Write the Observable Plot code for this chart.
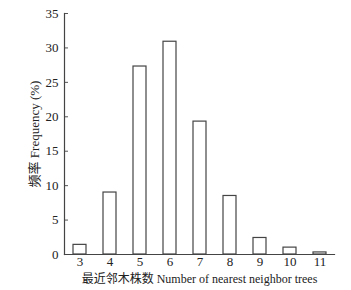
<!DOCTYPE html>
<html>
<head>
<meta charset="utf-8">
<script src="https://cdn.jsdelivr.net/npm/d3@7"></script>
<script src="https://cdn.jsdelivr.net/npm/@observablehq/plot@0.6"></script>
<style>
  html, body { margin: 0; padding: 0; background: #fff; }
  #chart svg { display: block; }
</style>
</head>
<body>
<div id="chart"></div>
<script>
const neighbors = [3, 4, 5, 6, 7, 8, 9, 10, 11];
const frequency = [1.4, 9.0, 27.3, 30.9, 19.3, 8.5, 2.4, 1.0, 0.3];
const yTicks = [0, 5, 10, 15, 20, 25, 30, 35];
const xLabel = "最近邻木株数 Number of nearest neighbor trees";
const yLabel = "频率 Frequency (%)";

const data = neighbors.map((n, i) => ({n, f: frequency[i]}));
const font = "'Liberation Serif', 'Noto Sans CJK SC', serif";

const chart = Plot.plot({
  width: 351,
  height: 290,
  marginLeft: 64,
  marginRight: 17,
  marginTop: 13,
  marginBottom: 36,
  style: {fontFamily: font, fontSize: "13px", color: "#222", background: "#fff"},
  x: {type: "band", domain: neighbors, paddingInner: 0.577, paddingOuter: 0.2885, align: 0.5},
  y: {domain: [0, 35]},
  marks: [
    Plot.axisY({ticks: yTicks, tickSize: -4, tickPadding: 10, label: yLabel, labelAnchor: "center", labelArrow: "none", labelOffset: 35, fontSize: 13, stroke: "#555"}),
    Plot.axisX({tickSize: 0, tickPadding: 2, label: null, fontSize: 13}),
    Plot.axisX({ticks: [], tickSize: 0, label: xLabel, labelAnchor: "center", labelArrow: "none", labelOffset: 28, fontSize: 12}),
    Plot.barY(data, {x: "n", y: "f", fill: "white", stroke: "#444", strokeWidth: 1.2}),
    Plot.frame({anchor: "left", stroke: "#444", strokeWidth: 1.2}),
    Plot.frame({anchor: "bottom", stroke: "#444", strokeWidth: 1.2})
  ]
});
document.getElementById("chart").appendChild(chart);
</script>
</body>
</html>
